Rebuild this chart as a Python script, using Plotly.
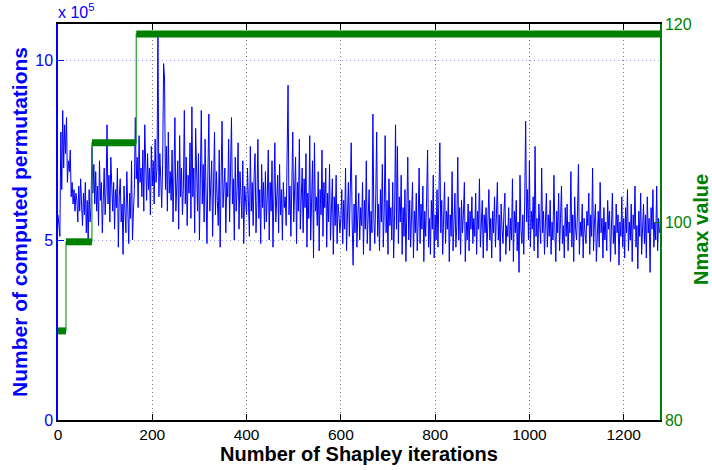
import plotly.graph_objects as go

# ---- data ----
# Number of computed permutations (units of 1e4), sampled every 2 Shapley iterations
seg_starts = [0, 40, 80, 120, 160, 200, 240, 280, 320, 360, 400, 440, 480, 520, 560,
              600, 640, 680, 720, 760, 800, 840, 880, 920, 960, 1000, 1040, 1080, 1120,
              1160, 1200, 1240]
seg_values = [
    [57, 53, 51, 80, 64, 86, 70, 82, 74, 84, 66, 72, 69, 75, 62, 66, 60, 64, 58, 63],
    [61, 55, 65, 58, 67, 60, 54, 63, 57, 66, 52, 61, 50, 64, 55, 59, 76, 63, 71, 60],
    [69, 58, 65, 54, 72, 61, 66, 52, 63, 70, 57, 64, 82, 60, 68, 55, 73, 62, 58, 66],
    [53, 64, 59, 70, 48, 62, 67, 55, 60, 46, 65, 58, 52, 69, 61, 49, 63, 56, 72, 50],
    [58, 64, 84, 67, 73, 59, 79, 66, 70, 62, 75, 58, 82, 68, 61, 74, 64, 70, 57, 76],
    [65, 72, 60, 78, 66, 70, 108, 62, 74, 67, 59, 71, 99, 95, 64, 76, 58, 80, 63, 69],
    [61, 75, 55, 68, 84, 58, 66, 72, 53, 79, 62, 70, 57, 65, 86, 60, 73, 54, 68, 63],
    [77, 56, 87, 62, 70, 52, 81, 65, 58, 74, 50, 67, 86, 60, 71, 55, 78, 63, 49, 69],
    [85, 58, 66, 72, 51, 63, 80, 57, 69, 61, 54, 75, 48, 67, 83, 59, 64, 70, 52, 66],
    [62, 78, 55, 71, 84, 60, 67, 50, 73, 58, 64, 77, 53, 69, 61, 56, 72, 49, 65, 59],
    [57, 70, 63, 51, 76, 58, 66, 54, 68, 74, 52, 61, 78, 56, 64, 49, 71, 59, 66, 53],
    [69, 55, 62, 75, 50, 66, 58, 72, 48, 63, 77, 55, 60, 68, 52, 71, 57, 64, 50, 66],
    [59, 62, 54, 70, 93, 57, 65, 51, 68, 80, 55, 62, 73, 49, 66, 58, 78, 53, 61, 70],
    [52, 67, 59, 74, 48, 63, 56, 79, 50, 65, 72, 45, 77, 58, 62, 54, 69, 47, 64, 57],
    [75, 51, 66, 59, 70, 48, 63, 55, 71, 50, 58, 67, 46, 62, 54, 68, 49, 60, 57, 52],
    [56, 64, 49, 61, 53, 70, 47, 58, 66, 51, 62, 77, 55, 43, 60, 52, 68, 48, 57, 63],
    [50, 59, 54, 66, 46, 61, 53, 72, 49, 57, 64, 47, 58, 52, 85, 56, 49, 62, 80, 51],
    [60, 47, 64, 55, 71, 48, 58, 79, 52, 61, 46, 67, 54, 59, 50, 66, 45, 57, 82, 53],
    [76, 49, 62, 55, 68, 46, 59, 51, 64, 44, 57, 73, 50, 61, 48, 56, 66, 45, 58, 52],
    [63, 47, 55, 70, 49, 60, 53, 65, 44, 58, 51, 62, 75, 48, 56, 46, 61, 53, 68, 45],
    [57, 50, 64, 48, 59, 77, 52, 61, 46, 55, 66, 49, 58, 53, 62, 44, 57, 51, 69, 47],
    [56, 63, 48, 54, 73, 50, 59, 46, 61, 52, 57, 66, 44, 55, 50, 60, 47, 58, 53, 62],
    [49, 56, 51, 63, 46, 58, 53, 67, 48, 55, 61, 45, 57, 52, 59, 47, 54, 64, 50, 56],
    [45, 58, 52, 62, 48, 55, 66, 50, 57, 44, 60, 53, 49, 58, 63, 46, 54, 51, 59, 47],
    [56, 50, 67, 44, 58, 52, 61, 47, 55, 41, 68, 53, 49, 57, 46, 60, 83, 55, 64, 50],
    [72, 48, 58, 53, 62, 47, 76, 51, 56, 45, 60, 54, 49, 70, 52, 58, 46, 55, 63, 48],
    [57, 51, 61, 46, 55, 50, 68, 53, 44, 58, 52, 63, 47, 56, 65, 49, 54, 45, 59, 51],
    [60, 47, 55, 52, 69, 48, 57, 44, 62, 53, 50, 58, 71, 46, 55, 51, 60, 45, 56, 52],
    [49, 58, 54, 63, 46, 57, 51, 70, 47, 55, 60, 44, 53, 58, 48, 66, 52, 56, 45, 59],
    [50, 55, 47, 61, 53, 58, 44, 56, 63, 49, 54, 46, 60, 52, 57, 43, 55, 51, 62, 48],
    [56, 45, 59, 52, 64, 47, 55, 50, 60, 44, 57, 53, 65, 48, 54, 42, 58, 51, 63, 46],
    [55, 60, 49, 57, 45, 62, 52, 56, 41, 59, 53, 64, 48, 55, 50, 65, 47, 56, 52],
]
iter_step = 2

# Nmax value steps
nmax_change_iters = [0, 17, 72, 166]
nmax_values = [89, 98, 108, 119]
last_iter = 1277

x_ticks = [0, 200, 400, 600, 800, 1000, 1200]
left_ticks = [0, 500000, 1000000]
left_ticktext = ["0", "5", "10"]
right_ticks = [80, 100, 120]

# ---- build series ----
perm_x, perm_y = [], []
for s, vals in zip(seg_starts, seg_values):
    for j, v in enumerate(vals):
        perm_x.append(s + iter_step * j)
        perm_y.append(v * 1e4)

ends = nmax_change_iters[1:] + [last_iter]
step_x, step_y = [], []
bar_x, bar_y = [], []
for a, b, v in zip(nmax_change_iters, ends, nmax_values):
    step_x += [a, b]
    step_y += [v, v]
    bar_x += [a, b, None]
    bar_y += [v, v, None]

BLUE = "#0000ff"
GREEN = "#008000"
FONT = "Liberation Sans, Arial, sans-serif"

fig = go.Figure()
fig.add_trace(go.Scatter(x=perm_x, y=perm_y, mode="lines",
                         line=dict(color=BLUE, width=1), yaxis="y", showlegend=False))
fig.add_trace(go.Scatter(x=step_x, y=step_y, mode="lines",
                         line=dict(color="#2e9a2e", width=1.2), yaxis="y2", showlegend=False))
fig.add_trace(go.Scatter(x=bar_x, y=bar_y, mode="lines",
                         line=dict(color=GREEN, width=7), yaxis="y2", showlegend=False))

fig.update_layout(
    width=712, height=470,
    margin=dict(l=58, r=52, t=24, b=50),
    paper_bgcolor="white", plot_bgcolor="white",
    font=dict(family=FONT, size=15, color="black"),
    xaxis=dict(range=[0, last_iter], tickvals=x_ticks, ticks="inside", ticklen=6,
               tickcolor="black", showline=True, linecolor="black", linewidth=1.5,
               mirror="ticks", showgrid=True, gridcolor="#777777", griddash="1px,3px",
               gridwidth=1, zeroline=False, automargin=False,
               tickfont=dict(size=15.5, color="black")),
    yaxis=dict(range=[0, 1100000], tickvals=left_ticks, ticktext=left_ticktext,
               ticks="inside", ticklen=6, tickcolor=BLUE, showline=True,
               linecolor=BLUE, linewidth=1.5, showgrid=True,
               gridcolor="rgba(90,90,255,0.6)", griddash="1px,3px", gridwidth=1,
               zeroline=False, automargin=False,
               tickfont=dict(size=16, color=BLUE)),
    yaxis2=dict(range=[80, 120], tickvals=right_ticks, overlaying="y", side="right",
                ticks="inside", ticklen=6, tickcolor=GREEN, showline=True,
                linecolor=GREEN, linewidth=1.5, showgrid=False, zeroline=False,
                automargin=False, tickfont=dict(size=16, color=GREEN)),
    annotations=[
        dict(text="x 10<sup>5</sup>", xref="paper", yref="paper",
             x=0.0, y=1.0, xanchor="left", yanchor="bottom", yshift=1, xshift=-2,
             showarrow=False, font=dict(size=16, color=BLUE)),
        dict(text="<b>Number of Shapley iterations</b>", xref="paper", yref="paper",
             x=0.5, y=0, xanchor="center", yanchor="middle", yshift=-34,
             showarrow=False, font=dict(size=20, color="black")),
        dict(text="<b>Number of computed permutations</b>", xref="paper", yref="paper",
             x=0, y=0.5, xanchor="center", yanchor="middle", xshift=-39,
             textangle=-90, showarrow=False, font=dict(size=21, color=BLUE)),
        dict(text="<b>Nmax value</b>", xref="paper", yref="paper",
             x=1, y=0.5, xanchor="center", yanchor="middle", xshift=41, yshift=-8,
             textangle=-90, showarrow=False, font=dict(size=20, color=GREEN)),
    ],
)

fig.write_html("out.html")
